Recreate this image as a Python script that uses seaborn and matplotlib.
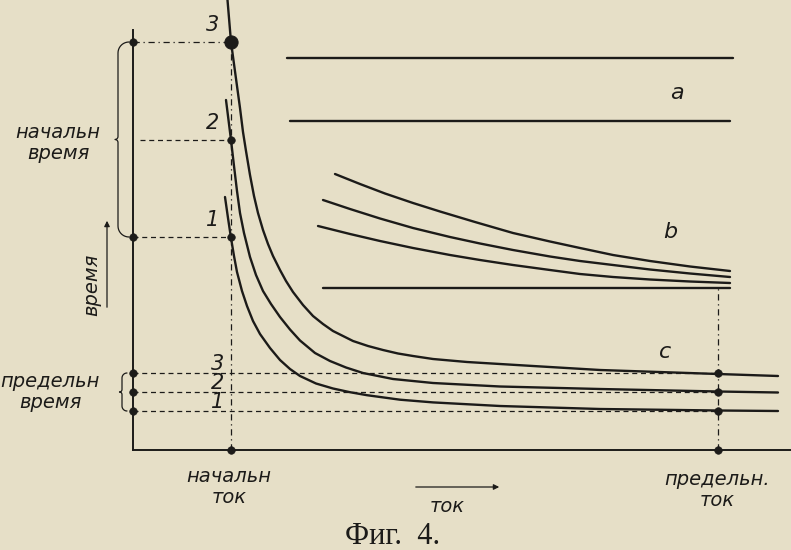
import numpy as np
import pandas as pd
import matplotlib
matplotlib.use("Agg")
import matplotlib.pyplot as plt
import seaborn as sns

# ---------------- data (x = current, y = time) ----------------
# curves "c" (1, 2, 3): time vs current
c1_x = [92, 95, 98, 101, 104, 109, 114, 120, 127, 137, 147, 157, 167, 183, 200, 217, 234,
        267, 300, 367, 467, 585, 645]
c1_y = [253, 232, 212, 194, 178, 159, 144, 129, 116, 102, 90, 81, 74, 66.5, 61.5, 57.8, 54.8,
        50.3, 47.6, 44, 41, 39.5, 39]
c2_x = [93, 95.5, 98, 101, 104, 107, 111, 117, 123, 130, 138, 147, 157, 167, 182, 197, 213,
        230, 260, 300, 367, 467, 585, 645]
c2_y = [350, 330, 310, 284, 259, 237, 217, 193, 175, 159, 146, 133, 120.5, 109.5, 97, 89,
        82.5, 77, 71, 67, 63.5, 61, 58.5, 57.5]
c3_x = [94.5, 98, 101, 104, 107, 110, 113, 117, 121, 125, 130, 135, 140, 147, 153, 160, 170,
        180, 190, 200, 210, 220, 235, 250, 265, 280, 300, 334, 367, 400, 467, 585, 645]
c3_y = [450, 408, 386, 364, 342, 318, 299, 275, 254, 237, 220, 206, 194, 180, 169, 158, 145,
        134, 126, 119, 114, 109, 104, 100, 96.5, 94, 91, 88, 86, 84, 80, 76, 74]

# curves "b"
b1_x = [202, 227, 252, 280, 307, 342, 380, 417, 447, 480, 517, 557, 597]
b1_y = [276, 266, 256.5, 247, 238.5, 228, 217, 208.5, 202, 195, 189, 183.5, 179]
b2_x = [190, 217, 247, 280, 317, 347, 380, 417, 447, 480, 517, 557, 597]
b2_y = [250, 241, 231.5, 222, 213, 206.5, 200, 193.5, 189, 185, 180.5, 176.5, 173]
b3_x = [185, 217, 247, 280, 317, 347, 380, 417, 447, 480, 517, 557, 597]
b3_y = [224, 216, 209, 202, 195, 190, 185, 180, 176, 173, 170.5, 168.5, 167]
b0_x = [190, 597]
b0_y = [162, 162]

# lines "a"
a1_x = [154, 600]
a1_y = [392, 392]
a2_x = [157, 597]
a2_y = [329, 329]

# characteristic levels
start_current = 98
limit_current = 585
start_times = [213, 310, 408]      # curves 1, 2, 3 at the start current
limit_times = [39, 58, 77]         # limit times for curves 1, 2, 3
axis_top = 420
axis_right = 658
curve_labels = ["1", "2", "3"]
group_labels = ["a", "b", "c"]

# ---------------- figure ----------------
sns.set_theme(style="white")
plt.rcParams["font.family"] = ["DejaVu Sans"]
bg = "#e6dfc7"
ink = "#1c1b19"

fig = plt.figure(figsize=(7.91, 5.5), dpi=100, facecolor=bg)
ax = fig.add_axes([0, 0, 1, 1], facecolor=bg)
ax.set_xlim(-133, 658)
ax.set_ylim(-100, 450)

for s in ["top", "right"]:
    ax.spines[s].set_visible(False)
ax.spines["left"].set_position(("data", 0))
ax.spines["bottom"].set_position(("data", 0))
ax.spines["left"].set_bounds(0, axis_top)
ax.spines["bottom"].set_bounds(0, axis_right)
for s in ["left", "bottom"]:
    ax.spines[s].set_color(ink)
    ax.spines[s].set_linewidth(1.4)
ax.set_xticks([])
ax.set_yticks([])
ax.set_xlabel("")
ax.set_ylabel("")

lw = 1.7
for xs, ys in [(c1_x, c1_y), (c2_x, c2_y), (c3_x, c3_y),
               (b1_x, b1_y), (b2_x, b2_y), (b3_x, b3_y), (b0_x, b0_y),
               (a1_x, a1_y), (a2_x, a2_y)]:
    df = pd.DataFrame({"x": xs, "y": ys})
    sns.lineplot(data=df, x="x", y="y", sort=False, estimator=None, ax=ax,
                 color=ink, linewidth=lw, clip_on=False)
for ln in ax.lines:
    ln.set_solid_joinstyle("round")
    ln.set_solid_capstyle("round")

dash = dict(color=ink, linewidth=0.9, linestyle=(0, (4, 3)))
dashdot = dict(color=ink, linewidth=0.9, linestyle=(0, (5, 3, 1, 3)))
# horizontal dashed lines to start-time points
ax.plot([0, start_current], [start_times[2]] * 2, **dashdot)
ax.plot([7, start_current], [start_times[1]] * 2, **dash)
ax.plot([0, start_current], [start_times[0]] * 2, **dash)
# limit-time levels
for t in limit_times:
    ax.plot([0, limit_current], [t, t], **dash)
# vertical dashed lines
ax.plot([start_current] * 2, [0, start_times[2]], **dashdot)
ax.plot([limit_current] * 2, [0, b0_y[0]], **dashdot)

# dots
dots_x = [0, 0, start_current, start_current, 0, 0, 0, start_current, limit_current,
          limit_current, limit_current, limit_current]
dots_y = [start_times[2], start_times[0], start_times[1], start_times[0],
          limit_times[0], limit_times[1], limit_times[2], 0, 0,
          limit_times[0], limit_times[1], limit_times[2]]
sns.scatterplot(x=dots_x, y=dots_y, ax=ax, s=30, color=ink, edgecolor=ink, zorder=5)
sns.scatterplot(x=[start_current], y=[start_times[2]], ax=ax, s=90, color=ink,
                edgecolor=ink, zorder=6)


def brace(x_end, y0, y1, r_end, r_mid):
    """Curly brace opening to the right, spanning y0..y1, ends at x_end."""
    ym = (y0 + y1) / 2
    xv = x_end - r_end
    pts = []
    th = np.linspace(np.pi / 2, np.pi, 10)
    pts += list(zip(x_end + r_end * np.cos(th), y1 - r_end + r_end * np.sin(th)))
    th = np.linspace(0, -np.pi / 2, 8)
    pts += list(zip(xv - r_mid + r_mid * np.cos(th), ym + r_mid + r_mid * np.sin(th)))
    th = np.linspace(np.pi / 2, 0, 8)
    pts += list(zip(xv - r_mid + r_mid * np.cos(th), ym - r_mid + r_mid * np.sin(th)))
    th = np.linspace(np.pi, 1.5 * np.pi, 10)
    pts += list(zip(x_end + r_end * np.cos(th), y0 + r_end + r_end * np.sin(th)))
    bx, by = zip(*pts)
    ax.plot(bx, by, color=ink, linewidth=0.9, clip_on=False)


brace(-4, start_times[0], start_times[2], 11, 3)
brace(-6, limit_times[0], limit_times[2], 5, 2.5)

# arrows
ax.annotate("", xy=(-26, 232), xytext=(-26, 140),
            arrowprops=dict(arrowstyle="-|>", color=ink, lw=0.9, mutation_scale=8))
ax.annotate("", xy=(369, -37), xytext=(280, -37),
            arrowprops=dict(arrowstyle="-|>", color=ink, lw=0.9, mutation_scale=8))

# texts
it = dict(color=ink, style="italic", fontsize=14, ha="center", va="center",
          linespacing=1.1)
ax.text(-75, 307, "начальн\nвремя", **it)
ax.text(-41, 165, "время", rotation=90, **it)
ax.text(-83, 58, "предельн\nвремя", **it)
ax.text(96, -37, "начальн\nток", **it)
ax.text(584, -40, "предельн.\nток", **it)
ax.text(314, -56, "ток", **it)

num = dict(color=ink, style="italic", fontsize=15, ha="center", va="center")
for lab, yy in zip(curve_labels, start_times):
    ax.text(80, yy + 17, lab, **num)
for lab, yy in zip(curve_labels, limit_times):
    ax.text(85, yy + 9, lab, **num)

grp = dict(color=ink, style="italic", fontsize=16, ha="center", va="center")
ax.text(544, 357, group_labels[0], **grp)
ax.text(537, 218, group_labels[1], **grp)
ax.text(532, 98, group_labels[2], **grp)

ax.text(260, -86, "Фиг.  4.", color=ink, fontsize=22, ha="center", va="center",
        family="Liberation Serif")

fig.savefig("out.png", dpi=100, facecolor=bg)
